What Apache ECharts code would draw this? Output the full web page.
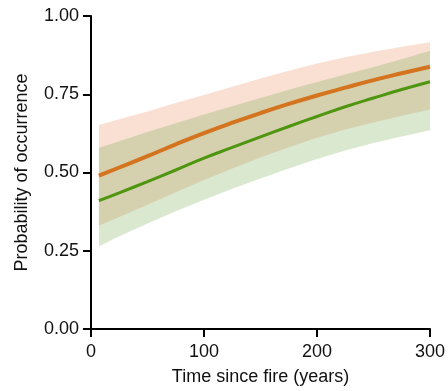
<!DOCTYPE html>
<html>
<head>
<meta charset="utf-8">
<script src="https://cdn.jsdelivr.net/npm/echarts@6/dist/echarts.min.js"></script>
<style>
  html, body { margin: 0; padding: 0; background: #fff; }
  #chart { width: 448px; height: 391px; }
</style>
</head>
<body>
<div id="chart"></div>
<script>
// years since fire
const years = [7, 25, 50, 75, 100, 125, 150, 175, 200, 225, 250, 275, 300]

// orange group: fitted line and confidence band
const orangeFit   = [0.490, 0.516, 0.552, 0.590, 0.626, 0.659, 0.690, 0.719, 0.746, 0.771, 0.795, 0.817, 0.838]
const orangeLower = [0.330, 0.358, 0.397, 0.437, 0.476, 0.513, 0.548, 0.581, 0.611, 0.637, 0.660, 0.681, 0.701]
const orangeUpper = [0.652, 0.670, 0.695, 0.722, 0.748, 0.774, 0.800, 0.825, 0.848, 0.868, 0.886, 0.902, 0.916]

// green group
const greenFit   = [0.410, 0.435, 0.471, 0.508, 0.546, 0.580, 0.614, 0.647, 0.679, 0.710, 0.738, 0.765, 0.790]
const greenLower = [0.264, 0.296, 0.337, 0.376, 0.413, 0.448, 0.481, 0.513, 0.543, 0.570, 0.594, 0.615, 0.635]
const greenUpper = [0.579, 0.600, 0.629, 0.657, 0.685, 0.712, 0.738, 0.764, 0.789, 0.813, 0.837, 0.862, 0.889]

const yTicks = [0, 0.25, 0.5, 0.75, 1]
const xTicks = [0, 100, 200, 300]

const pairs = (ys) => years.map((x, i) => [x, ys[i]])

const font = 'Liberation Sans, Arial, sans-serif'
const chart = echarts.init(document.getElementById('chart'))

// confidence band as one polygon, points mapped through the axes
const band = (name, lo, hi, color) => ({
    name: name, type: 'custom', silent: true,
    data: years.map((x, i) => [x, lo[i], hi[i]]),
    encode: { x: 0, y: [1, 2] },
    renderItem: (params, api) => {
        if (params.dataIndex !== 0) return
        const top = years.map((x, i) => api.coord([x, hi[i]]))
        const bottom = years.map((x, i) => api.coord([x, lo[i]])).reverse()
        return {
            type: 'polygon',
            shape: { points: top.concat(bottom), smooth: 0 },
            style: { fill: color }
        }
    }
})

chart.setOption({
    animation: false,
    grid: { left: 91, right: 17, top: 16, bottom: 55 },
    xAxis: {
        type: 'value', min: 0, max: 300, interval: 100,
        name: 'Time since fire (years)', nameLocation: 'middle', nameGap: 39,
        nameTextStyle: { fontFamily: font, fontSize: 18, color: '#111' },
        axisLine: { show: true, onZero: false, lineStyle: { color: '#000', width: 2 } },
        axisTick: { show: true, length: 8, lineStyle: { color: '#000', width: 2 } },
        axisLabel: { fontFamily: font, fontSize: 18, color: '#111', margin: 14,
            formatter: v => xTicks.includes(v) ? String(v) : '' },
        splitLine: { show: false }
    },
    yAxis: {
        type: 'value', min: 0, max: 1, interval: 0.25,
        name: 'Probability of occurrence', nameLocation: 'middle', nameGap: 60,
        nameTextStyle: { fontFamily: font, fontSize: 18, color: '#111' },
        axisLine: { show: true, lineStyle: { color: '#000', width: 2 } },
        axisTick: { show: true, length: 8, lineStyle: { color: '#000', width: 2 } },
        axisLabel: { fontFamily: font, fontSize: 18, color: '#111', margin: 12,
            formatter: v => yTicks.includes(v) ? v.toFixed(2) : '' },
        splitLine: { show: false }
    },
    series: [
        band('orangeBand', orangeLower, orangeUpper, 'rgba(231,131,75,0.25)'),
        band('greenBand', greenLower, greenUpper, 'rgba(107,163,67,0.25)'),
        {
            name: 'green', type: 'line', data: pairs(greenFit), smooth: true,
            symbol: 'none', lineStyle: { color: '#4e960f', width: 3 }
        },
        {
            name: 'orange', type: 'line', data: pairs(orangeFit), smooth: true,
            symbol: 'none', lineStyle: { color: '#d4741f', width: 4 }
        }
    ]
})
</script>
</body>
</html>
